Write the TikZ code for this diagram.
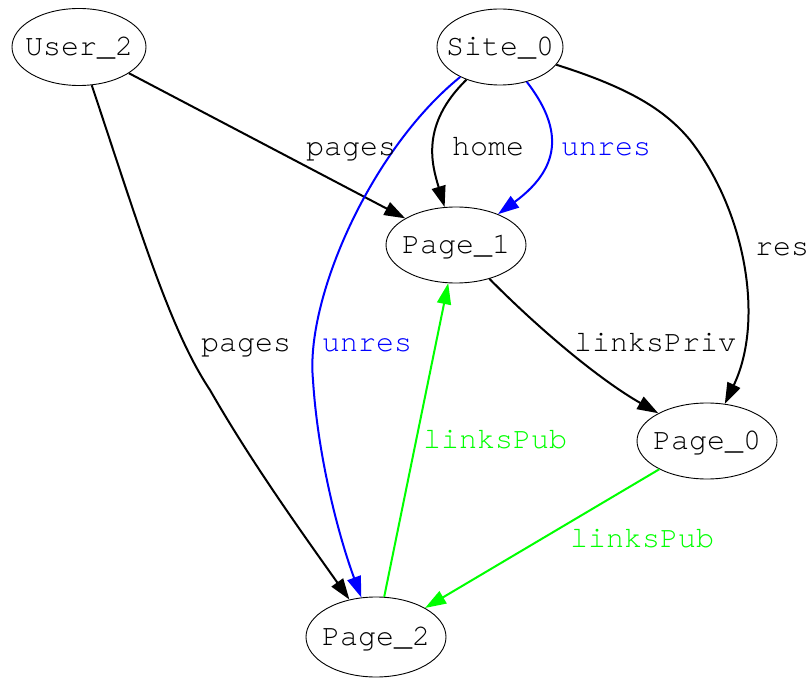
\documentclass[tikz,border=0pt]{standalone}
\usepackage{fontspec}
\newfontfamily\gvfont{texgyrecursor-regular}[Extension=.otf]
\usetikzlibrary{shapes.geometric,arrows.meta}
\definecolor{gvblue}{RGB}{0,0,255}
\definecolor{gvgreen}{RGB}{0,255,0}
\newcommand{\gvt}[1]{\makebox[0pt]{\raisebox{-0.29em}[0pt][0pt]{#1}}}
\begin{document}
\begin{tikzpicture}[x=1pt,y=-1pt,
  gvnode/.style={draw=black,line width=0.9pt,ellipse,inner sep=0pt,font=\gvfont\fontsize{30}{30}\selectfont},
  gvedge/.style={line width=2pt,-{Triangle[length=21pt,width=14pt]}},
  gvlabel/.style={inner sep=0pt,font=\gvfont\fontsize{30}{30}\selectfont}]
\useasboundingbox (0,0) rectangle (812,679);
\node[gvnode,minimum width=134pt,minimum height=77pt] (u2) at (79,47) {\gvt{User\_2}};
\node[gvnode,minimum width=126pt,minimum height=76pt] (s0) at (500,47) {\gvt{Site\_0}};
\node[gvnode,minimum width=140pt,minimum height=76pt] (p1) at (456,245) {\gvt{Page\_1}};
\node[gvnode,minimum width=140pt,minimum height=76pt] (p0) at (707,441) {\gvt{Page\_0}};
\node[gvnode,minimum width=140pt,minimum height=80pt] (p2) at (376,637) {\gvt{Page\_2}};
% edges
\draw[gvedge] (u2) -- (p1);
\draw[gvedge] (u2) .. controls (140,230) and (170,330) .. (210,390) .. controls (250,460) and (300,530) .. (p2);
\draw[gvedge] (s0) .. controls (420,125) and (432,165) .. (p1);
\draw[gvedge,color=gvblue] (s0) .. controls (560,125) and (565,165) .. (p1);
\draw[gvedge,color=gvblue] (s0.217) .. controls (370,150) and (305,300) .. (313,380) .. controls (318,460) and (340,540) .. (p2);
\draw[gvedge] (s0) .. controls (630,88) and (665,110) .. (690,140) .. controls (745,210) and (765,320) .. (p0);
\draw[gvedge] (p1) .. controls (540,330) and (600,380) .. (p0);
\draw[gvedge,color=gvgreen] (p0) -- (p2);
\draw[gvedge,color=gvgreen] (p2) -- (p1);
% labels
\node[gvlabel] (l1) at (351,147) {\gvt{pages}};
\node[gvlabel] (l2) at (246,343) {\gvt{pages}};
\node[gvlabel] (l3) at (488,147) {\gvt{home}};
\node[gvlabel,text=gvblue] (l4) at (606,147) {\gvt{unres}};
\node[gvlabel,text=gvblue] (l5) at (367,343) {\gvt{unres}};
\node[gvlabel] (l6) at (782,247) {\gvt{res}};
\node[gvlabel] (l7) at (655,343) {\gvt{linksPriv}};
\node[gvlabel,text=gvgreen] (l8) at (495,440) {\gvt{linksPub}};
\node[gvlabel,text=gvgreen] (l9) at (642,539) {\gvt{linksPub}};
\end{tikzpicture}
\end{document}
